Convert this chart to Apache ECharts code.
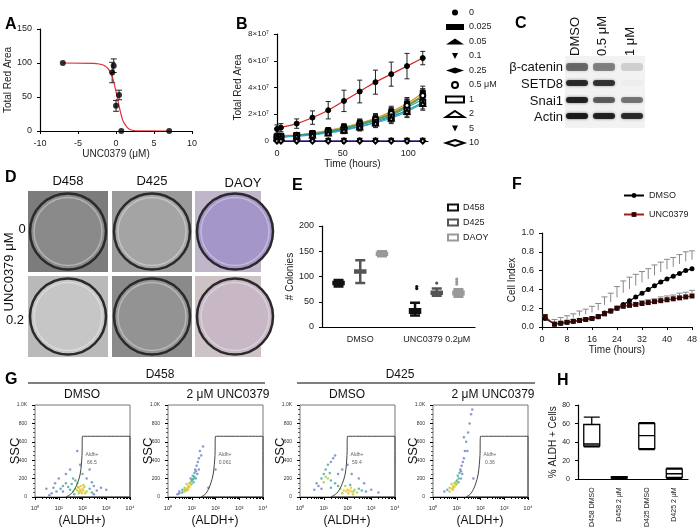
<!DOCTYPE html>
<html><head><meta charset="utf-8">
<script src="https://cdn.jsdelivr.net/npm/echarts@6/dist/echarts.min.js"></script>
<style>html,body{margin:0;padding:0;background:#fff}#c{width:700px;height:530px}</style>
</head><body><div id="c"></div>
<script>
// ---- Panel A ----
const aPts = [[-7,100],[-0.5,86],[-0.3,96],[0,37],[0.4,53],[0.7,0],[7,0]];
const aErr = [[-0.5,71,101],[-0.3,86,106],[0,29,45],[0.4,46,60]];
const aFit = [[-7,100],[-3,99.5],[-2,98],[-1.5,96],[-1,91],[-0.5,80],[-0.25,70],[0,58],[0.25,45],[0.5,32],[0.75,21],[1,13],[1.5,5],[2,1.5],[3,0.2],[7,0]];
// ---- Panel B ----
const bTimes = [0,3,15,27,39,51,63,75,87,99,111];
const bNames = ['0','0.025','0.05','0.1','0.25','0.5 μM','1','2','5','10'];
const bVals = [
 [0.9,1.0,1.3,1.75,2.3,3.0,3.7,4.4,5.0,5.6,6.2],
 [0.35,0.4,0.45,0.6,0.8,1.05,1.35,1.7,2.2,2.8,3.6],
 [0.3,0.35,0.45,0.55,0.75,1.0,1.3,1.65,2.1,2.7,3.4],
 [0.3,0.33,0.42,0.52,0.7,0.95,1.25,1.6,2.0,2.6,3.3],
 [0.28,0.3,0.4,0.5,0.68,0.9,1.2,1.5,1.9,2.5,3.1],
 [0.3,0.32,0.43,0.55,0.73,0.98,1.28,1.62,2.05,2.65,3.4],
 [0.28,0.3,0.4,0.5,0.65,0.85,1.1,1.4,1.8,2.3,2.9],
 [0.25,0.28,0.36,0.45,0.6,0.8,1.05,1.35,1.7,2.2,2.8],
 [0.02,0.02,0.02,0.02,0.02,0.02,0.02,0.02,0.02,0.02,0.02],
 [0,0,0,0,0,0,0,0,0,0,0]];
const bErr0 = [0.3,0.3,0.35,0.5,0.65,0.8,0.85,0.9,0.9,0.95,0.5];
const bErrOther = [0.1,0.1,0.1,0.15,0.2,0.25,0.3,0.35,0.4,0.45,0.5];
const bColors = ['#d62728','#e6892a','#e3c21b','#3b9a3b','#2aa198','#4f9d6a','#2c8c9a','#39a7c7','#2b3f9a','#7a4fa0'];
const bSymbols = ['circle','rect','triangle','path://M0,0L10,0L5,10Z','diamond','emptyCircle','emptyRect','emptyTriangle','path://M0,0L10,0L5,10Z','emptyDiamond'];
// ---- Panel E ----
const eCats = ['DMSO','UNC0379 0.2μM'];
const eNames = ['D458','D425','DAOY'];
const eBoxes = [
 [[80,85,87,89,93],[23,28,31,35,48]],
 [[87,108,110,112,132],[62,66,68,70,76]],
 [[140,143,145,147,150],[60,65,67,70,75]]];
const eColors = ['#111','#555','#999'];
const eOutliers = [[[1,76],[1,80]],[[1,87]],[[1,85],[1,90],[1,95]]];
// ---- Panel F ----
const fTimes = [1,4,6,8,10,12,14,16,18,20,22,24,26,28,30,32,34,36,38,40,42,44,46,48];
const fDmso = [.09,.03,.04,.05,.06,.07,.08,.09,.11,.15,.17,.2,.24,.28,.32,.36,.40,.44,.48,.51,.54,.57,.60,.62];
const fDmsoErr = [.02,.05,.06,.07,.08,.10,.11,.13,.14,.17,.19,.23,.25,.25,.24,.23,.22,.22,.21,.21,.2,.2,.2,.19];
const fUnc = [.11,.03,.04,.05,.06,.07,.08,.09,.11,.14,.17,.2,.22,.23,.24,.25,.26,.27,.28,.29,.30,.31,.32,.33];
const fUncErr = [.02,.02,.02,.02,.02,.02,.02,.02,.02,.02,.02,.02,.02,.02,.02,.03,.03,.03,.04,.04,.04,.05,.05,.06];
// ---- Panel G ----
const gTitles = ['DMSO','2 μM UNC0379','DMSO','2 μM UNC0379'];
const gPct = ['66.5','0.061','59.4','0.36'];
const g1 = [[8,60,0],[12,90,0],[15,120,1],[20,150,1],[25,110,1],[30,80,1],[40,60,2],[50,90,2],[60,70,2],[70,100,3],[80,80,3],[90,60,3],[100,90,3],[110,70,3],[120,110,2],[150,60,2],[200,90,1],[250,50,1],[300,120,0],[400,70,0],[600,100,0],[6,100,0],[5,40,0],[10,200,0],[20,250,0],[30,300,0],[40,200,1],[50,180,1],[60,150,2],[35,140,1],[150,200,0],[200,300,0],[80,350,0],[100,250,1],[70,40,2],[130,40,2],[45,30,1],[15,60,0],[4,20,0],[60,500,0],[300,30,0],[1000,80,0],[85,120,3],[95,40,3],[75,60,3],[110,130,2],[65,110,2],[3,90,0],[7,150,0],[250,160,0]];
const g2 = [[3,60,0],[4,80,1],[5,100,2],[6,90,3],[7,120,3],[8,110,3],[6,140,2],[9,160,2],[10,180,1],[12,200,1],[11,230,1],[13,260,1],[14,300,0],[15,280,0],[16,340,0],[18,380,0],[20,420,0],[22,500,0],[5,60,2],[4,50,1],[7,80,3],[8,150,2],[9,130,3],[10,140,2],[6,70,2],[3,40,0],[12,160,1],[25,450,0],[30,550,0],[15,200,1],[17,250,0],[20,300,0],[2.5,30,0],[50,100,0],[100,300,0],[7,100,3],[5,80,2],[11,190,1],[13,220,1],[9,200,0]];
const g3 = [[5,150,0],[8,200,1],[10,250,1],[12,300,1],[15,350,1],[20,380,0],[25,420,0],[6,120,0],[10,160,2],[15,200,2],[20,180,1],[30,150,1],[40,120,1],[50,90,2],[70,70,3],[90,60,3],[100,80,3],[120,70,3],[150,60,3],[200,80,2],[250,50,2],[300,90,1],[400,70,1],[600,60,0],[1000,80,0],[2000,50,0],[80,120,2],[130,130,1],[60,40,2],[170,30,2],[40,250,0],[60,300,0],[100,350,0],[30,450,0],[4,80,0],[8,90,0],[300,200,0],[500,150,0],[150,250,0],[20,100,1],[110,40,3],[140,100,3],[180,60,2],[12,220,2],[18,260,1]];
const g4 = [[3,60,0],[4,80,1],[5,100,2],[6,90,3],[7,120,3],[8,110,3],[6,140,2],[9,160,2],[10,180,1],[12,200,1],[11,230,1],[13,260,1],[14,300,0],[15,280,0],[16,340,0],[18,380,0],[20,420,0],[22,500,0],[5,60,2],[7,80,3],[8,150,2],[9,130,3],[12,160,1],[25,600,0],[30,700,0],[35,800,0],[40,900,0],[20,650,0],[28,500,0],[17,250,0],[7,100,3],[10,140,2],[15,200,1],[50,200,0],[45,950,0]];
const gData = [g1,g2,g3,g4];
const gGateA = [[20,0],[35,40],[55,120],[80,250],[95,450],[100,660],[10000,660],[10000,0],[20,0]];
const gGateB = [[25,0],[40,40],[60,130],[80,250],[95,450],[100,660],[10000,660],[10000,0],[25,0]];
const gDensColors = ['#6a7fc0','#3fa8a0','#a6cc3a','#f0c020'];
// ---- Panel H ----
const hCats = ['D458 DMSO','D458 2 μM','D425 DMSO','D425 2 μM'];
const hBoxes = [[35,36,38,59,67],[1,1.5,2,2.5,3],[32,33,47,60,61],[1,2,6,11,12]];

const F = 'Liberation Sans';
const ax = {fontFamily:F,fontSize:9,color:'#222'};
const line = {onZero:false,lineStyle:{color:'#000',width:1.2}};
const grids=[], xAxes=[], yAxes=[], series=[];
function addGrid(g,x,y){grids.push(Object.assign({containLabel:false},g));const i=grids.length-1;xAxes.push(Object.assign({gridIndex:i,axisLine:Object.assign({show:true},line),axisTick:{show:true,length:3,lineStyle:{color:'#000'}},splitLine:{show:false},axisLabel:ax,nameTextStyle:{fontFamily:F,fontSize:10,color:'#222'}},x));yAxes.push(Object.assign({gridIndex:i,axisLine:Object.assign({show:true},line),axisTick:{show:true,length:3,lineStyle:{color:'#000'}},splitLine:{show:false},axisLabel:ax,nameTextStyle:{fontFamily:F,fontSize:10,color:'#222'}},y));return i;}
function errSeries(i,data,color,cap,upOnly){return {type:'custom',xAxisIndex:i,yAxisIndex:i,data:data,silent:true,z:1,
 renderItem:function(p,api){const x=api.value(0),lo=api.value(1),hi=api.value(2);const a=api.coord([x,upOnly?(lo+hi)/2:lo]),b=api.coord([x,hi]);
 const ch=[{type:'line',shape:{x1:a[0],y1:a[1],x2:b[0],y2:b[1]},style:{stroke:color,lineWidth:1}},{type:'line',shape:{x1:b[0]-cap,y1:b[1],x2:b[0]+cap,y2:b[1]},style:{stroke:color,lineWidth:1}}];
 if(!upOnly)ch.push({type:'line',shape:{x1:a[0]-cap,y1:a[1],x2:a[0]+cap,y2:a[1]},style:{stroke:color,lineWidth:1}});
 return {type:'group',children:ch};}};}

// A
let i=addGrid({left:40,top:29,width:152,height:102},{type:'value',min:-10,max:10,interval:5,name:'UNC0379 (μM)',nameLocation:'middle',nameGap:18},{type:'value',min:0,max:150,interval:50,name:'Total Red Area',nameLocation:'middle',nameGap:22});
series.push({type:'line',xAxisIndex:i,yAxisIndex:i,data:aFit,smooth:true,symbol:'none',lineStyle:{color:'#e0303a',width:1.2}});
series.push(errSeries(i,aErr,'#222',3));
series.push({type:'scatter',xAxisIndex:i,yAxisIndex:i,data:aPts,symbolSize:6,itemStyle:{color:'#000'},z:3});
// B
const sup7 = v=>v===0?'0':(v/1e7)+'×10⁷';
i=addGrid({left:277,top:34,width:151,height:107},{type:'value',min:0,max:115,interval:50,name:'Time (hours)',nameLocation:'middle',nameGap:18,axisLabel:Object.assign({},ax,{showMaxLabel:false})},{type:'value',min:0,max:8e7,interval:2e7,name:'Total Red Area',nameLocation:'middle',nameGap:34,axisLabel:Object.assign({},ax,{fontSize:8,formatter:sup7})});
const bi=i;
bNames.forEach((n,k)=>{
 series.push(errSeries(bi,bTimes.map((t,j)=>{const e=k===0?bErr0[j]:(k>=8?0:bErrOther[j]);return [t,(bVals[k][j]-e)*1e7,(bVals[k][j]+e)*1e7];}),'#222',2.5));
 series.push({type:'line',name:n,xAxisIndex:bi,yAxisIndex:bi,data:bTimes.map((t,j)=>[t,bVals[k][j]*1e7]),smooth:true,symbol:bSymbols[k],symbolSize:5,
  lineStyle:{color:bColors[k],width:1.2},itemStyle:{color:'#000',borderColor:'#000'},z:3});
});
// E
i=addGrid({left:322,top:226,width:153,height:101},{type:'category',data:eCats,axisTick:{show:false},axisLabel:Object.assign({},ax,{fontSize:9,interval:0})},{type:'value',min:0,max:200,interval:50,name:'# Colonies',nameLocation:'middle',nameGap:24});
const ei=i;
eNames.forEach((n,k)=>{series.push({type:'boxplot',name:n,xAxisIndex:ei,yAxisIndex:ei,data:eBoxes[k],boxWidth:[10,10],itemStyle:{color:'#fff',borderColor:eColors[k],borderWidth:2.5},emphasis:{disabled:true}});});
eNames.forEach((n,k)=>{series.push({type:'custom',xAxisIndex:ei,yAxisIndex:ei,data:eOutliers[k],silent:true,
 renderItem:function(p,api){const c=api.coord([api.value(0),api.value(1)]);const off=(k-1)*20;return {type:'circle',shape:{cx:c[0]+off,cy:c[1],r:1.6},style:{fill:eColors[k]}};}});});
// F
i=addGrid({left:542,top:233,width:155,height:94},{type:'value',min:0,max:48,interval:8,name:'Time (hours)',nameLocation:'middle',nameGap:18},{type:'value',min:0,max:1,interval:0.2,name:'Cell Index',nameLocation:'middle',nameGap:24,axisLabel:Object.assign({},ax,{formatter:v=>v.toFixed(1)})});
const fi=i;
series.push(errSeries(fi,fTimes.map((t,j)=>[t,fDmso[j],fDmso[j]+fDmsoErr[j]]),'#888',3,true));
series.push(errSeries(fi,fTimes.map((t,j)=>[t,fUnc[j],fUnc[j]+fUncErr[j]]),'#888',3,true));
series.push({type:'line',name:'DMSO',xAxisIndex:fi,yAxisIndex:fi,data:fTimes.map((t,j)=>[t,fDmso[j]]),symbol:'circle',symbolSize:5,lineStyle:{color:'#000',width:1.2},itemStyle:{color:'#000'},z:3});
series.push({type:'line',name:'UNC0379',xAxisIndex:fi,yAxisIndex:fi,data:fTimes.map((t,j)=>[t,fUnc[j]]),symbol:'rect',symbolSize:5,lineStyle:{color:'#a02020',width:1.2},itemStyle:{color:'#2a0808'},z:3});
// G
const gLeft=[35,168,300,433];
const logLab={1:'10⁰',10:'10¹',100:'10²',1000:'10³',10000:'10⁴'};
for(let k=0;k<4;k++){
 i=addGrid({left:gLeft[k],top:405,width:95,height:92},
  {type:'log',min:1,max:10000,logBase:10,axisLabel:{fontFamily:F,fontSize:6,color:'#333',formatter:v=>logLab[Math.round(v)]||''},minorTick:{show:true,splitNumber:9,length:2,lineStyle:{color:'#000'}},axisLine:{show:true,lineStyle:{color:'#000',width:1}}},
  {type:'value',min:0,max:1000,interval:200,axisLabel:{fontFamily:F,fontSize:5,color:'#333',formatter:v=>v===1000?'1.0K':v},minorTick:{show:true,splitNumber:4,length:2},axisLine:{show:false}});
 grids[i].show=true; grids[i].borderColor='#777'; grids[i].borderWidth=1;
 series.push({type:'scatter',xAxisIndex:i,yAxisIndex:i,data:gData[k],symbolSize:2.5,itemStyle:{color:p=>gDensColors[p.value[2]]},silent:true});
 series.push({type:'line',xAxisIndex:i,yAxisIndex:i,data:(k%2===0?gGateA:gGateB),symbol:'none',smooth:0.3,lineStyle:{color:'#444',width:1},silent:true});
 series.push({type:'scatter',xAxisIndex:i,yAxisIndex:i,data:[[250,420]],symbolSize:0,label:{show:true,formatter:'Aldh+\n'+gPct[k],fontSize:5,color:'#333',fontFamily:F,lineHeight:8}});
}
// H
i=addGrid({left:578,top:405,width:110,height:88},{type:'category',data:hCats,axisTick:{show:false},axisLabel:Object.assign({},ax,{fontSize:7,rotate:90,interval:0})},{type:'value',min:0,max:80,interval:20,name:'% ALDH + Cells',nameLocation:'middle',nameGap:18,axisLabel:Object.assign({},ax,{fontSize:7})});
series.push({type:'boxplot',xAxisIndex:i,yAxisIndex:i,data:hBoxes,boxWidth:[16,16],itemStyle:{color:'#fff',borderColor:'#000',borderWidth:1.3}});

// graphics (blot, plates, labels)
const gr=[];
function txt(x,y,t,o){gr.push(Object.assign({type:'text',x:x,y:y,style:Object.assign({text:t,font:'13px '+F,fill:'#111'},o&&o.style||{})},o&&o.extra||{}));}
function panel(x,y,t){gr.push({type:'text',x:x,y:y,style:{text:t,font:'bold 16px '+F,fill:'#000'}});}
panel(5,17,'A');panel(236,17,'B');panel(515,16,'C');panel(5,170,'D');panel(292,178,'E');panel(512,177,'F');panel(5,372,'G');panel(557,373,'H');
// C blot
gr.push({type:'rect',shape:{x:565,y:56,width:80,height:72},style:{fill:'#f2f2f2'}});
const lanes=[577,604,632], rows=[66,83,100,116];
const bandAlpha=[[0.55,0.45,0.15],[0.85,0.8,0.02],[0.9,0.6,0.5],[0.95,0.9,0.85]];
rows.forEach((ry,r)=>lanes.forEach((lx,l)=>{gr.push({type:'rect',shape:{x:lx-11,y:ry-3,width:22,height:r===0?8:6,r:3},style:{fill:'rgba(20,20,20,'+bandAlpha[r][l]+')',shadowBlur:3,shadowColor:'rgba(0,0,0,'+bandAlpha[r][l]*0.6+')'}});}));
['β-catenin','SETD8','Snai1','Actin'].forEach((t,r)=>txt(563,rows[r]+1,t,{style:{align:'right',verticalAlign:'middle'}}));
['DMSO','0.5 μM','1 μM'].forEach((t,l)=>gr.push({type:'text',x:lanes[l]-2,y:56,rotation:Math.PI/2,style:{text:t,font:'13px '+F,fill:'#111',align:'left',verticalAlign:'middle'}}));
// D plates
const pcols=[28,112,195], prows=[191,276];
const plateBg=[['#7c7c7c','#9a9a9a','#bfb6cc'],['#b9b9b9','#8a8a8a','#cdc2c4']];
const plateIn=[['#8a8a8a','#a4a4a4','#a496c8'],['#c6c6c6','#939393','#c8b8c6']];
prows.forEach((py,r)=>pcols.forEach((px,c)=>{const w=c===2?66:80;gr.push({type:'rect',shape:{x:px,y:py,width:w,height:81},style:{fill:plateBg[r][c]}});
 gr.push({type:'circle',shape:{cx:px+40,cy:py+40.5,r:38},style:{fill:plateIn[r][c],stroke:'#2a2a2a',lineWidth:2.5}});
 gr.push({type:'circle',shape:{cx:px+40,cy:py+40.5,r:34},style:{fill:'none',stroke:'rgba(255,255,255,0.35)',lineWidth:1.5}});}));
txt(68,181,'D458',{style:{align:'center',verticalAlign:'middle'}});txt(152,181,'D425',{style:{align:'center',verticalAlign:'middle'}});txt(243,183,'DAOY',{style:{align:'center',verticalAlign:'middle'}});
txt(22,229,'0',{style:{align:'center',verticalAlign:'middle'}});txt(15,320,'0.2',{style:{align:'center',verticalAlign:'middle'}});
gr.push({type:'text',x:9,y:272,rotation:Math.PI/2,style:{text:'UNC0379 μM',font:'13px '+F,fill:'#111',align:'center',verticalAlign:'middle'}});
// G headers
gr.push({type:'line',shape:{x1:28,y1:383,x2:265,y2:383},style:{stroke:'#000',lineWidth:1.2}});
gr.push({type:'line',shape:{x1:297,y1:383,x2:535,y2:383},style:{stroke:'#000',lineWidth:1.2}});
txt(160,375,'D458',{style:{align:'center',verticalAlign:'middle',font:'12px '+F}});txt(400,375,'D425',{style:{align:'center',verticalAlign:'middle',font:'12px '+F}});
gTitles.forEach((t,k)=>{txt(gLeft[k]+[47,60,47,60][k],395,t,{style:{align:'center',verticalAlign:'middle',font:'12px '+F}});
 txt(gLeft[k]+47,521,'(ALDH+)',{style:{align:'center',verticalAlign:'middle',font:'12px '+F}});
 gr.push({type:'text',x:gLeft[k]-20,y:451,rotation:Math.PI/2,style:{text:'SSC',font:'13px '+F,fill:'#111',align:'center',verticalAlign:'middle'}});});

const option={animation:false,grid:grids,xAxis:xAxes,yAxis:yAxes,series:series,graphic:gr,
 legend:[
  {data:bNames.map((n,k)=>({name:n,icon:bSymbols[k]})),orient:'vertical',left:440,top:3,itemWidth:18,itemHeight:6,itemGap:5.5,textStyle:{fontFamily:F,fontSize:9,color:'#222'}},
  {data:eNames,orient:'vertical',left:442,top:198,icon:'rect',itemWidth:10,itemHeight:6,itemGap:6,itemStyle:{color:'#fff',borderWidth:2},textStyle:{fontFamily:F,fontSize:9,color:'#222'}},
  {data:['DMSO','UNC0379'],orient:'vertical',left:618,top:186,itemWidth:20,itemHeight:6,itemGap:10,textStyle:{fontFamily:F,fontSize:9,color:'#222'}}
 ]};
echarts.init(document.getElementById('c')).setOption(option);
</script></body></html>
